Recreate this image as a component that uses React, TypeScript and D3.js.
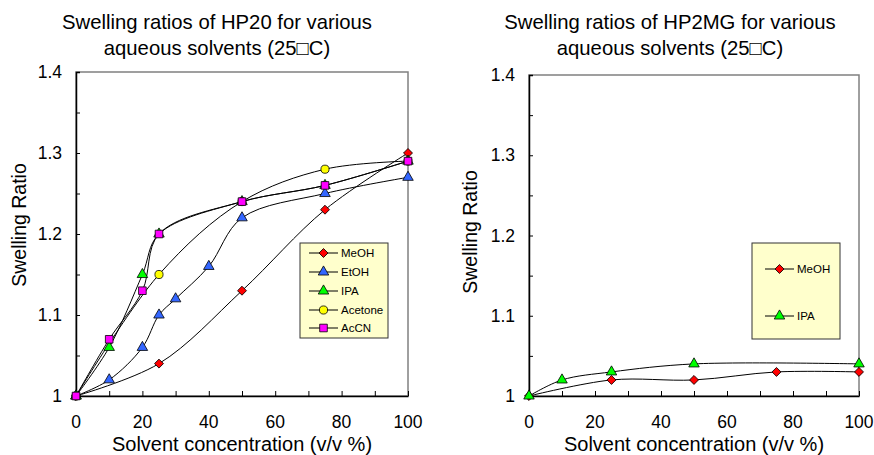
import React, { useEffect, useRef } from "react";
import * as d3 from "d3";

// HP20 data (solvent % v/v -> swelling ratio)
const meohConc = [0, 25, 50, 75, 100];
const hp20MeOH = [1.0, 1.04, 1.13, 1.23, 1.3];
const etohConc = [0, 10, 20, 25, 30, 40, 50, 75, 100];
const hp20EtOH = [1.0, 1.02, 1.06, 1.1, 1.12, 1.16, 1.22, 1.25, 1.27];
const ipaConc = [0, 10, 20, 25, 50, 75, 100];
const hp20IPA = [1.0, 1.06, 1.15, 1.2, 1.24, 1.26, 1.29];
const acetoneConc = [0, 25, 50, 75, 100];
const hp20Acetone = [1.0, 1.15, 1.24, 1.28, 1.29];
const accnConc = [0, 10, 20, 25, 50, 75, 100];
const hp20AcCN = [1.0, 1.07, 1.13, 1.2, 1.24, 1.26, 1.29];

// HP2MG data
const mgMeohConc = [0, 25, 50, 75, 100];
const hp2mgMeOH = [1.0, 1.02, 1.02, 1.03, 1.03];
const mgIpaConc = [0, 10, 25, 50, 100];
const hp2mgIPA = [1.0, 1.02, 1.03, 1.04, 1.04];

const xTickLabels = [0, 20, 40, 60, 80, 100];
const yTickLabels = [1, 1.1, 1.2, 1.3, 1.4];

// diamond = square turned 45deg (Excel style, same width and height)
const styles: any = {
  MeOH: { fill: "#ff0000", shape: d3.symbolSquare, size: 40, rot: 45 },
  EtOH: { fill: "#3366ff", shape: d3.symbolTriangle, size: 48, rot: 0 },
  IPA: { fill: "#00ff00", shape: d3.symbolTriangle, size: 48, rot: 0 },
  Acetone: { fill: "#ffff00", shape: d3.symbolCircle, size: 52, rot: 0 },
  AcCN: { fill: "#ff00ff", shape: d3.symbolSquare, size: 58, rot: 0 },
};

const FONT = "Liberation Sans, Arial, sans-serif";

function marker(g: any, st: any, cx: number, cy: number) {
  g.append("path")
    .attr("transform", `translate(${cx},${cy}) rotate(${st.rot})`)
    .attr("d", d3.symbol().type(st.shape).size(st.size)())
    .attr("fill", st.fill)
    .attr("stroke", "#000")
    .attr("stroke-width", 0.8);
}

function drawChart(svg: any, cfg: any) {
  const x = d3.scaleLinear().domain([0, 100]).range([cfg.left, cfg.right]);
  const y = d3.scaleLinear().domain([1, 1.4]).range([cfg.bottom, cfg.top]);
  const g = svg.append("g");

  // frame (top/right gray)
  g.append("rect")
    .attr("x", cfg.left)
    .attr("y", cfg.top)
    .attr("width", cfg.right - cfg.left)
    .attr("height", cfg.bottom - cfg.top)
    .attr("fill", "none")
    .attr("stroke", "#808080")
    .attr("stroke-width", 1.5);

  // axes
  const yAxis = d3
    .axisRight(y)
    .tickValues(d3.range(1, 1.4001, 0.05))
    .tickSize(4)
    .tickFormat(() => "");
  g.append("g")
    .attr("transform", `translate(${cfg.left},0)`)
    .call(yAxis)
    .call((a: any) => a.selectAll("line").attr("stroke", "#000"))
    .call((a: any) =>
      a.select(".domain").attr("stroke", "#000").attr("stroke-width", 1.5)
    );

  const xAxis = d3
    .axisTop(x)
    .tickValues(d3.range(0, 101, 10))
    .tickSize(5)
    .tickSizeOuter(0)
    .tickFormat(() => "");
  g.append("g")
    .attr("transform", `translate(0,${cfg.bottom})`)
    .call(xAxis)
    .call((a: any) => a.selectAll("line").attr("stroke", "#000"))
    .call((a: any) =>
      a.select(".domain").attr("stroke", "#000").attr("stroke-width", 1.5)
    );

  // tick labels
  g.selectAll(".ylab")
    .data(yTickLabels)
    .enter()
    .append("text")
    .attr("x", cfg.left - 14)
    .attr("y", (d: number) => y(d) + 6)
    .attr("text-anchor", "end")
    .attr("font-family", FONT)
    .attr("font-size", 17.5)
    .text((d: number) => (d === 1 ? "1" : d3.format(".1f")(d)));

  g.selectAll(".xlab")
    .data(xTickLabels)
    .enter()
    .append("text")
    .attr("x", (d: number) => x(d))
    .attr("y", cfg.bottom + 32)
    .attr("text-anchor", "middle")
    .attr("font-family", FONT)
    .attr("font-size", 17.5)
    .text((d: number) => d);

  // titles
  cfg.title.forEach((t: string, i: number) => {
    g.append("text")
      .attr("x", cfg.titleX)
      .attr("y", 29 + i * 26)
      .attr("text-anchor", "middle")
      .attr("font-family", FONT)
      .attr("font-size", 20.3)
      .text(t);
  });

  g.append("text")
    .attr("x", (cfg.left + cfg.right) / 2)
    .attr("y", 451)
    .attr("text-anchor", "middle")
    .attr("font-family", FONT)
    .attr("font-size", 20)
    .text("Solvent concentration (v/v %)");

  g.append("text")
    .attr("transform", `translate(${cfg.yLabelX},${cfg.yLabelY}) rotate(-90)`)
    .attr("text-anchor", "middle")
    .attr("dy", "0.35em")
    .attr("font-family", FONT)
    .attr("font-size", 19.5)
    .text("Swelling Ratio");

  // series lines (smoothed, like the spreadsheet original)
  const line = d3
    .line<number[]>()
    .x((d) => x(d[0]))
    .y((d) => y(d[1]))
    .curve(d3.curveCatmullRom.alpha(0.5));

  cfg.series.forEach((s: any) => {
    const pts = s.conc.map((c: number, i: number) => [c, s.vals[i]]);
    g.append("path")
      .attr("d", line(pts))
      .attr("fill", "none")
      .attr("stroke", "#000")
      .attr("stroke-width", 1);
  });

  cfg.series.forEach((s: any) => {
    const st = styles[s.name];
    s.conc.forEach((c: number, i: number) => marker(g, st, x(c), y(s.vals[i])));
  });

  // legend
  const lg = cfg.legend;
  g.append("rect")
    .attr("x", lg.x0)
    .attr("y", lg.y0)
    .attr("width", lg.x1 - lg.x0)
    .attr("height", lg.y1 - lg.y0)
    .attr("fill", "#ffffcc")
    .attr("stroke", "#333")
    .attr("stroke-width", 1);
  lg.items.forEach((name: string, i: number) => {
    const yy = lg.rows[i];
    g.append("line")
      .attr("x1", lg.lx0)
      .attr("x2", lg.lx1)
      .attr("y1", yy)
      .attr("y2", yy)
      .attr("stroke", "#000");
    marker(g, styles[name], (lg.lx0 + lg.lx1) / 2, yy);
    g.append("text")
      .attr("x", lg.lx1 + 3)
      .attr("y", yy + 4)
      .attr("font-family", FONT)
      .attr("font-size", 11.5)
      .text(name);
  });
}

export default function App() {
  const ref = useRef<SVGSVGElement>(null);

  useEffect(() => {
    const svg = d3.select(ref.current);
    svg.selectAll("*").remove();

    drawChart(svg, {
      left: 76,
      right: 408,
      top: 72,
      bottom: 396,
      titleX: 217,
      title: ["Swelling ratios of HP20 for various", "aqueous solvents (25\u25A1C)"],
      yLabelX: 19,
      yLabelY: 225,
      series: [
        { name: "MeOH", conc: meohConc, vals: hp20MeOH },
        { name: "EtOH", conc: etohConc, vals: hp20EtOH },
        { name: "IPA", conc: ipaConc, vals: hp20IPA },
        { name: "Acetone", conc: acetoneConc, vals: hp20Acetone },
        { name: "AcCN", conc: accnConc, vals: hp20AcCN },
      ],
      legend: {
        x0: 300,
        x1: 388,
        y0: 243,
        y1: 338,
        lx0: 309,
        lx1: 338,
        rows: [253, 272, 291, 310, 328],
        items: ["MeOH", "EtOH", "IPA", "Acetone", "AcCN"],
      },
    });

    drawChart(svg, {
      left: 529,
      right: 859,
      top: 75,
      bottom: 396,
      titleX: 670,
      title: ["Swelling ratios of HP2MG for various", "aqueous solvents (25\u25A1C)"],
      yLabelX: 470,
      yLabelY: 232,
      series: [
        { name: "MeOH", conc: mgMeohConc, vals: hp2mgMeOH },
        { name: "IPA", conc: mgIpaConc, vals: hp2mgIPA },
      ],
      legend: {
        x0: 752,
        x1: 840,
        y0: 243,
        y1: 339,
        lx0: 765,
        lx1: 794,
        rows: [269, 316],
        items: ["MeOH", "IPA"],
      },
    });
  }, []);

  return (
    <svg
      ref={ref}
      width={874}
      height={455}
      style={{ position: "absolute", left: 0, top: 0, background: "#fff" }}
    />
  );
}
